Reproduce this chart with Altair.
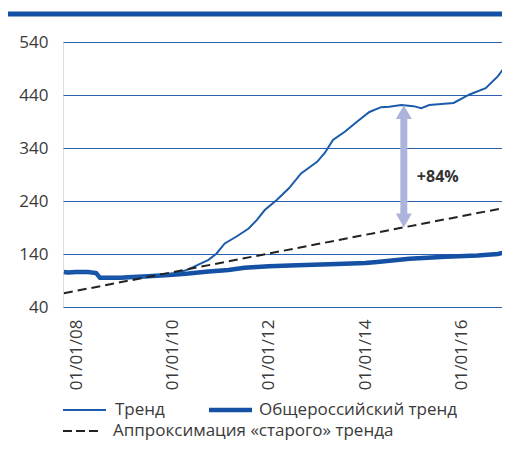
import altair as alt
import pandas as pd

# ---- data ----
trend_dates = ["2007-10-01", "2008-01-01", "2008-05-01", "2008-06-01", "2008-07-01",
               "2008-12-01", "2009-02-01", "2009-07-01", "2009-11-01", "2010-02-01",
               "2010-05-01", "2010-08-01", "2010-10-01", "2010-12-01", "2011-02-01",
               "2011-05-01", "2011-08-01", "2011-10-01", "2011-12-01", "2012-03-01",
               "2012-06-01", "2012-09-01", "2013-01-01", "2013-03-01", "2013-05-01",
               "2013-08-01", "2013-11-01", "2014-02-01", "2014-05-01", "2014-07-01",
               "2014-10-01", "2015-01-01", "2015-03-01", "2015-05-01", "2015-11-01",
               "2016-03-01", "2016-07-01", "2016-10-01", "2016-12-31"]
trend_values = [106, 106, 106, 104, 95,
                95, 96, 98, 101, 104,
                111, 122, 129, 141, 160,
                173, 188, 204, 223, 242,
                264, 292, 314, 331, 355,
                371, 390, 408, 417, 418,
                421, 419, 415, 421, 425,
                441, 453, 475, 506]

russia_dates = ["2007-10-01", "2007-11-01", "2008-01-01", "2008-04-01", "2008-06-01",
                "2008-07-01", "2008-12-01", "2009-02-01", "2009-07-01", "2010-01-01",
                "2010-05-01", "2010-10-01", "2011-03-01", "2011-07-01", "2012-01-01",
                "2012-08-01", "2013-06-01", "2014-01-01", "2014-04-01", "2014-12-01",
                "2015-09-01", "2016-05-01", "2016-10-01", "2016-12-31"]
russia_values = [106, 105, 106, 106, 104,
                 95, 95, 96, 98, 101,
                 103, 107, 110, 114, 117,
                 119, 121, 123, 125, 131,
                 135, 137, 140, 145]

approx_dates = ["2007-10-01", "2016-12-31"]
approx_values = [66, 229]

y_ticks = [40, 140, 240, 340, 440, 540]
x_tick_years = [2008, 2010, 2012, 2014, 2016]
legend_labels = ["Тренд", "Общероссийский тренд", "Аппроксимация «старого» тренда"]

gap_date = ["2014-10-20"]
gap_top = [421]
gap_bottom = [190]
gap_label = ["+84%"]
gap_label_value = [285]

# ---- styling ----
FONT = "Open Sans"
BLUE_THIN = "#1b5bab"
BLUE_THICK = "#1450a3"
GRID = "#2d62ae"
TEXT = "#3a3a3a"
ARROW = "#adb4dc"
W, H = 439, 265

trend_df = pd.DataFrame({"date": trend_dates, "value": trend_values})
russia_df = pd.DataFrame({"date": russia_dates, "value": russia_values})
approx_df = pd.DataFrame({"date": approx_dates, "value": approx_values})
gap_df = pd.DataFrame({"date": gap_date, "top": gap_top, "bottom": gap_bottom,
                       "label": gap_label, "ly": gap_label_value})
one = pd.DataFrame({"k": [0]})

x_scale = alt.Scale(type="utc",
                    domain=[alt.DateTime(year=2007, month=9, date=24, utc=True),
                            alt.DateTime(year=2016, month=11, date=2, utc=True)])
y_scale = alt.Scale(domain=[40, 540], nice=False, zero=False)

x_axis = alt.Axis(values=[alt.DateTime(year=yr, month=1, date=1, utc=True) for yr in x_tick_years],
                  format="%d/%m/%y", labelAngle=270, grid=False, domain=False, ticks=False,
                  labelPadding=12, labelFontSize=17, labelColor=TEXT, labelFont=FONT, title=None)
y_axis = alt.Axis(values=y_ticks, grid=True, gridColor=GRID, gridWidth=1, domain=False,
                  ticks=False, labelPadding=15, labelFontSize=17, labelColor=TEXT,
                  labelFont=FONT, title=None)


def X(field="date"):
    return alt.X(f"{field}:T", scale=x_scale, axis=x_axis)


def Y(field="value"):
    return alt.Y(f"{field}:Q", scale=y_scale, axis=y_axis)


russia = alt.Chart(russia_df).mark_line(color=BLUE_THICK, strokeWidth=4.5, clip=True).encode(x=X(), y=Y())
trend = alt.Chart(trend_df).mark_line(color=BLUE_THIN, strokeWidth=2, clip=True).encode(x=X(), y=Y())
approx = alt.Chart(approx_df).mark_line(color="#222222", strokeWidth=2, strokeDash=[9, 5],
                                        clip=True).encode(x=X(), y=Y())

shaft = alt.Chart(gap_df).mark_rule(color=ARROW, strokeWidth=7, yOffset=12, y2Offset=-12).encode(
    x=X(), y=Y("top"), y2="bottom:Q")
head_up = alt.Chart(gap_df).mark_point(shape="triangle-up", filled=True, size=256, opacity=1,
                                       color=ARROW, yOffset=7).encode(x=X(), y=Y("top"))
head_down = alt.Chart(gap_df).mark_point(shape="triangle-down", filled=True, size=256, opacity=1,
                                         color=ARROW, yOffset=-7).encode(x=X(), y=Y("bottom"))
gap_text = alt.Chart(gap_df).mark_text(align="left", baseline="middle", dx=13, fontSize=16,
                                       fontWeight="bold", color="#333333", font=FONT).encode(
    x=X(), y=Y("ly"), text="label:N")

top_bar = alt.Chart(one).mark_rule(color=BLUE_THICK, strokeWidth=5).encode(
    x=alt.value(-55), x2=alt.value(W), y=alt.value(-28))

# legend (drawn manually to follow the reference layout)
leg_y1, leg_y2 = 368, 389
leg1_line = alt.Chart(one).mark_rule(color=BLUE_THIN, strokeWidth=2).encode(
    x=alt.value(0), x2=alt.value(43), y=alt.value(leg_y1))
leg2_line = alt.Chart(one).mark_rule(color=BLUE_THICK, strokeWidth=4.5).encode(
    x=alt.value(146), x2=alt.value(189), y=alt.value(leg_y1))
leg3_line = alt.Chart(one).mark_rule(color="#222222", strokeWidth=2, strokeDash=[9, 4]).encode(
    x=alt.value(0), x2=alt.value(37), y=alt.value(leg_y2))


def leg_text(label, xpos, ypos):
    return alt.Chart(one).mark_text(align="left", baseline="middle", fontSize=17,
                                    color=TEXT, font=FONT).encode(
        x=alt.value(xpos), y=alt.value(ypos), text=alt.value(label))


leg1_text = leg_text(legend_labels[0], 52, leg_y1)
leg2_text = leg_text(legend_labels[1], 196, leg_y1)
leg3_text = leg_text(legend_labels[2], 50, leg_y2)

chart = alt.layer(
    russia, trend, shaft, head_up, head_down, approx, gap_text, top_bar,
    leg1_line, leg2_line, leg3_line, leg1_text, leg2_text, leg3_text
).properties(
    width=W, height=H,
    autosize=alt.AutoSizeParams(type="none"),
    padding={"left": 55, "top": 34, "right": 0, "bottom": 134},
    background="white",
).configure_view(stroke=None).configure(font=FONT)

chart.save("out.html", embed_options={"renderer": "svg", "actions": False})
